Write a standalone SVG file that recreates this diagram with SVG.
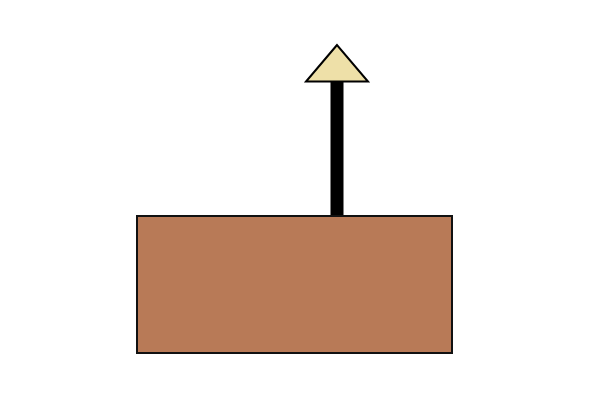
<svg xmlns="http://www.w3.org/2000/svg" width="603" height="414" viewBox="0 0 603 414">
<style>
.box{fill:#B87A57;stroke:#111;stroke-width:2}
.stem{stroke:#000;stroke-width:13;fill:none}
.head{fill:#EEE0A8;stroke:#000;stroke-width:2;stroke-linejoin:miter}
</style>
<rect width="603" height="414" fill="#fff"/>
<g id="connectors">
<line class="stem" x1="337" y1="82" x2="337" y2="216"/>
<polygon class="head" points="337,45 306,81.5 368,81.5"/>
</g>
<g id="block">
<rect class="box" x="137" y="216" width="315" height="137"/>
</g>
</svg>
